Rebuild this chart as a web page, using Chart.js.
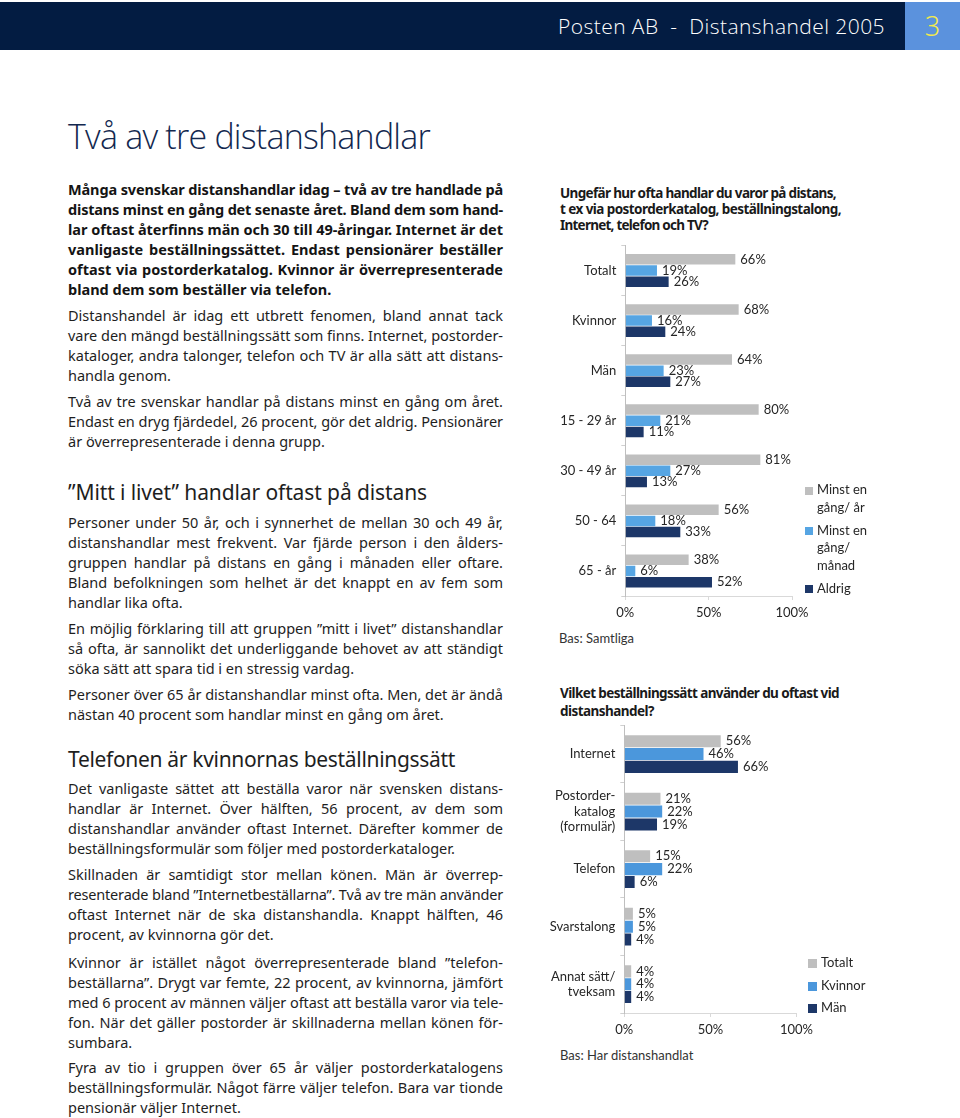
<!DOCTYPE html>
<html lang="sv">
<head>
<meta charset="utf-8">
<title>Posten AB - Distanshandel 2005</title>
<script src="https://cdn.jsdelivr.net/npm/chart.js@4.4.1/dist/chart.umd.min.js"></script>
<style>
  html, body { margin: 0; padding: 0; background: #fff; }
  #page { position: relative; width: 960px; height: 1118px; overflow: hidden; font-family: "Noto Sans", sans-serif; color: #1e1e1e; }
  .bar { position: absolute; left: 0; top: 2px; width: 905px; height: 48px; background: #031c42; }
  .num { position: absolute; left: 905px; top: 2px; width: 55px; height: 48px; background: #5b92dd; color: #f3ea4c; font-size: 27px; font-weight: 300; line-height: 48px; text-align: center; }
  .head { position: absolute; top: 2px; right: 75px; line-height: 48px; color: #fff; font-family: "Open Sans", sans-serif; font-weight: 300; font-size: 21px; white-space: pre; }
  .title { position: absolute; left: 68px; top: 116px; font-family: "Open Sans", sans-serif; font-weight: 300; font-size: 34px; line-height: 40px; color: #13284f; white-space: nowrap; }
  .h { position: absolute; left: 68px; font-size: 21px; line-height: 26px; white-space: nowrap; color: #1e1e1e; }
  .p { position: absolute; left: 68px; width: 435px; font-size: 14.5px; line-height: 20.1px; }
  .p.b { font-weight: 700; color: #141414; }
  .ln { white-space: nowrap; width: 435px; }
  .ct { position: absolute; left: 560px; font-weight: 700; font-size: 13.5px; color: #1a1a1a; white-space: nowrap; }
  .ct div { white-space: nowrap; }
  .bas { position: absolute; font-family: Lato, sans-serif; font-size: 13px; line-height: 18px; color: #333; }
  .leg { position: absolute; font-family: Lato, sans-serif; font-size: 13px; color: #262626; }
  .leg .it { position: relative; }
  .leg .sq { position: absolute; left: 0; }
  canvas { position: absolute; }
</style>
</head>
<body>
<div id="page">
  <div class="bar"></div>
  <div class="num">3</div>
  <div class="head" data-fit="f" data-w="327"><span>Posten AB  -  Distanshandel 2005</span></div>

  <div class="title" data-fit="f" data-w="362"><span>Två av tre distanshandlar</span></div>

  <div class="p b" style="top:179px">Många svenskar distanshandlar idag – två av tre handlade på|distans minst en gång det senaste året. Bland dem som hand-|lar oftast återfinns män och 30 till 49-åringar. Internet är det|vanligaste beställningssättet. Endast pensionärer beställer|oftast via postorderkatalog. Kvinnor är överrepresenterade|bland dem som beställer via telefon.</div>
  <div class="p" style="top:305px">Distanshandel är idag ett utbrett fenomen, bland annat tack|vare den mängd beställningssätt som finns. Internet, postorder-|kataloger, andra talonger, telefon och TV är alla sätt att distans-|handla genom.</div>
  <div class="p" style="top:391px">Två av tre svenskar handlar på distans minst en gång om året.|Endast en dryg fjärdedel, 26 procent, gör det aldrig. Pensionärer|är överrepresenterade i denna grupp.</div>

  <div class="h" style="top:479px" data-fit="f" data-w="359"><span>”Mitt i livet” handlar oftast på distans</span></div>
  <div class="p" style="top:512px">Personer under 50 år, och i synnerhet de mellan 30 och 49 år,|distanshandlar mest frekvent. Var fjärde person i den ålders-|gruppen handlar på distans en gång i månaden eller oftare.|Bland befolkningen som helhet är det knappt en av fem som|handlar lika ofta.</div>
  <div class="p" style="top:618px">En möjlig förklaring till att gruppen ”mitt i livet” distanshandlar|så ofta, är sannolikt det underliggande behovet av att ständigt|söka sätt att spara tid i en stressig vardag.</div>
  <div class="p" style="top:684px">Personer över 65 år distanshandlar minst ofta. Men, det är ändå|nästan 40 procent som handlar minst en gång om året.</div>

  <div class="h" style="top:746px" data-fit="f" data-w="387"><span>Telefonen är kvinnornas beställningssätt</span></div>
  <div class="p" style="top:778px">Det vanligaste sättet att beställa varor när svensken distans-|handlar är Internet. Över hälften, 56 procent, av dem som|distanshandlar använder oftast Internet. Därefter kommer de|beställningsformulär som följer med postorderkataloger.</div>
  <div class="p" style="top:864px">Skillnaden är samtidigt stor mellan könen. Män är överrep-|resenterade bland ”Internetbeställarna”. Två av tre män använder|oftast Internet när de ska distanshandla. Knappt hälften, 46|procent, av kvinnorna gör det.</div>
  <div class="p" style="top:952px">Kvinnor är istället något överrepresenterade bland ”telefon-|beställarna”. Drygt var femte, 22 procent, av kvinnorna, jämfört|med 6 procent av männen väljer oftast att beställa varor via tele-|fon. När det gäller postorder är skillnaderna mellan könen för-|sumbara.</div>
  <div class="p" style="top:1057px">Fyra av tio i gruppen över 65 år väljer postorderkatalogens|beställningsformulär. Något färre väljer telefon. Bara var tionde|pensionär väljer Internet.</div>

  <div class="ct" style="top:185px; line-height:16.2px">
    <div data-fit="f" data-w="276"><span>Ungefär hur ofta handlar du varor på distans,</span></div>
    <div data-fit="f" data-w="281"><span>t ex via postorderkatalog, beställningstalong,</span></div>
    <div data-fit="f" data-w="148"><span>Internet, telefon och TV?</span></div>
  </div>
  <canvas id="chartFreq" width="274" height="391" style="left:540px; top:235px"></canvas>
  <div class="leg" id="legFreq" style="left:805px; top:481px"></div>
  <div class="bas" style="left:559px; top:629px">Bas: Samtliga</div>

  <div class="ct" style="top:685px; line-height:17.5px">
    <div data-fit="f" data-w="279"><span>Vilket beställningssätt använder du oftast vid</span></div>
    <div data-fit="f" data-w="94"><span>distanshandel?</span></div>
  </div>
  <canvas id="chartMethod" width="279" height="328" style="left:540px; top:715px"></canvas>
  <div class="leg" id="legMethod" style="left:808px; top:954px"></div>
  <div class="bas" style="left:560px; top:1046px">Bas: Har distanshandlat</div>
</div>

<script>
// Ungefär hur ofta handlar du varor på distans?
const freqCats = ['Totalt', 'Kvinnor', 'Män', '15 - 29 år', '30 - 49 år', '50 - 64', '65 - år'];
const freqNames = [['Minst en', 'gång/ år'], ['Minst en', 'gång/', 'månad'], ['Aldrig']];
const minstAr = [66, 68, 64, 80, 81, 56, 38];
const minstManad = [19, 16, 23, 21, 27, 18, 6];
const aldrig = [26, 24, 27, 11, 13, 33, 52];

// Vilket beställningssätt använder du oftast?
const methodCats = ['Internet', ['Postorder-', 'katalog', '(formulär)'], 'Telefon', 'Svarstalong', ['Annat sätt/', 'tveksam']];
const groupNames = [['Totalt'], ['Kvinnor'], ['Män']];
const totalt = [56, 21, 15, 5, 4];
const kvinnor = [46, 22, 22, 5, 4];
const man = [66, 19, 6, 4, 4];

const GRAY = '#bfbfbf';
const LBLUE = '#56a5e3';
const LBLUE2 = '#4b97dc';
const NAVY = '#1d3768';

// split paragraphs into fixed lines
document.querySelectorAll('.p').forEach(p => {
  const lines = p.textContent.split('|');
  p.textContent = '';
  lines.forEach((t, i) => {
    const d = document.createElement('div');
    d.className = 'ln';
    d.dataset.fit = i < lines.length - 1 ? 'j' : 'l';
    const s = document.createElement('span');
    s.textContent = t;
    d.appendChild(s);
    p.appendChild(d);
  });
});

document.querySelectorAll('[data-fit]').forEach(el => {
  const mode = el.dataset.fit;
  const target = parseFloat(el.dataset.w || '435');
  const span = el.firstElementChild;
  const w = span.getBoundingClientRect().width;
  const text = span.textContent;
  const spaces = (text.match(/ /g) || []).length;
  if (mode === 'f' || w > target) {
    el.style.letterSpacing = ((target - w) / text.length) + 'px';
  } else if (mode === 'j' && spaces) {
    el.style.wordSpacing = ((target - w) / spaces) + 'px';
  }
});

function buildLegend(id, names, colors, lineH, gap, sq) {
  const box = document.getElementById(id);
  names.forEach((lines, i) => {
    const it = document.createElement('div');
    it.className = 'it';
    it.style.lineHeight = lineH + 'px';
    it.style.paddingLeft = (sq + 4) + 'px';
    it.style.marginBottom = gap + 'px';
    const s = document.createElement('div');
    s.className = 'sq';
    s.style.width = sq + 'px';
    s.style.height = sq + 'px';
    s.style.top = (lineH / 2 - sq / 2 + 1) + 'px';
    s.style.background = colors[i];
    it.appendChild(s);
    lines.forEach(t => {
      const l = document.createElement('div');
      l.textContent = t;
      it.appendChild(l);
    });
    box.appendChild(it);
  });
}

const valueLabels = {
  id: 'valueLabels',
  afterDatasetsDraw(chart) {
    const ctx = chart.ctx;
    ctx.save();
    ctx.font = '13px Lato';
    ctx.fillStyle = '#262626';
    ctx.textBaseline = 'middle';
    ctx.textAlign = 'left';
    chart.data.datasets.forEach((ds, i) => {
      chart.getDatasetMeta(i).data.forEach((bar, j) => {
        ctx.fillText(ds.data[j] + '%', bar.x + 5, bar.y);
      });
    });
    ctx.restore();
  }
};

function makeChart(id, labels, datasets, pad) {
  return new Chart(document.getElementById(id), {
    type: 'bar',
    data: { labels: labels, datasets: datasets },
    options: {
      indexAxis: 'y',
      responsive: false,
      animation: false,
      layout: { padding: { top: pad.top, right: pad.right, left: 0, bottom: 0 } },
      plugins: { legend: { display: false }, tooltip: { enabled: false } },
      datasets: { bar: { categoryPercentage: 0.67, barPercentage: 0.94 } },
      scales: {
        x: {
          min: 0,
          max: 100,
          grid: { drawOnChartArea: false, tickLength: 4, color: '#d9d9d9' },
          border: { color: '#d9d9d9' },
          ticks: { stepSize: 50, padding: 5, color: '#262626', font: { family: 'Lato', size: 13 }, callback: v => v + '%' },
          afterFit: s => { s.height = 30; s.paddingLeft = 0; s.paddingRight = 0; }
        },
        y: {
          grid: { drawOnChartArea: false, tickLength: 4, color: '#d0d0d0' },
          border: { color: '#bfbfbf' },
          ticks: { padding: 5, color: '#262626', font: { family: 'Lato', size: 13 } },
          afterFit: s => { s.width = pad.axis; s.paddingTop = 0; s.paddingBottom = 0; }
        }
      }
    },
    plugins: [valueLabels]
  });
}

makeChart('chartFreq', freqCats, [
  { label: freqNames[0].join(' '), data: minstAr, backgroundColor: GRAY },
  { label: freqNames[1].join(' '), data: minstManad, backgroundColor: LBLUE },
  { label: freqNames[2].join(' '), data: aldrig, backgroundColor: NAVY }
], { top: 10.5, right: 22, axis: 85.3 });

makeChart('chartMethod', methodCats, [
  { label: groupNames[0][0], data: totalt, backgroundColor: GRAY },
  { label: groupNames[1][0], data: kvinnor, backgroundColor: LBLUE2 },
  { label: groupNames[2][0], data: man, backgroundColor: NAVY }
], { top: 10.25, right: 22.5, axis: 84.3 });

buildLegend('legFreq', freqNames, [GRAY, LBLUE, NAVY], 17.5, 5.5, 8);
buildLegend('legMethod', groupNames, [GRAY, LBLUE2, NAVY], 17.5, 5, 9);
</script>
</body>
</html>
